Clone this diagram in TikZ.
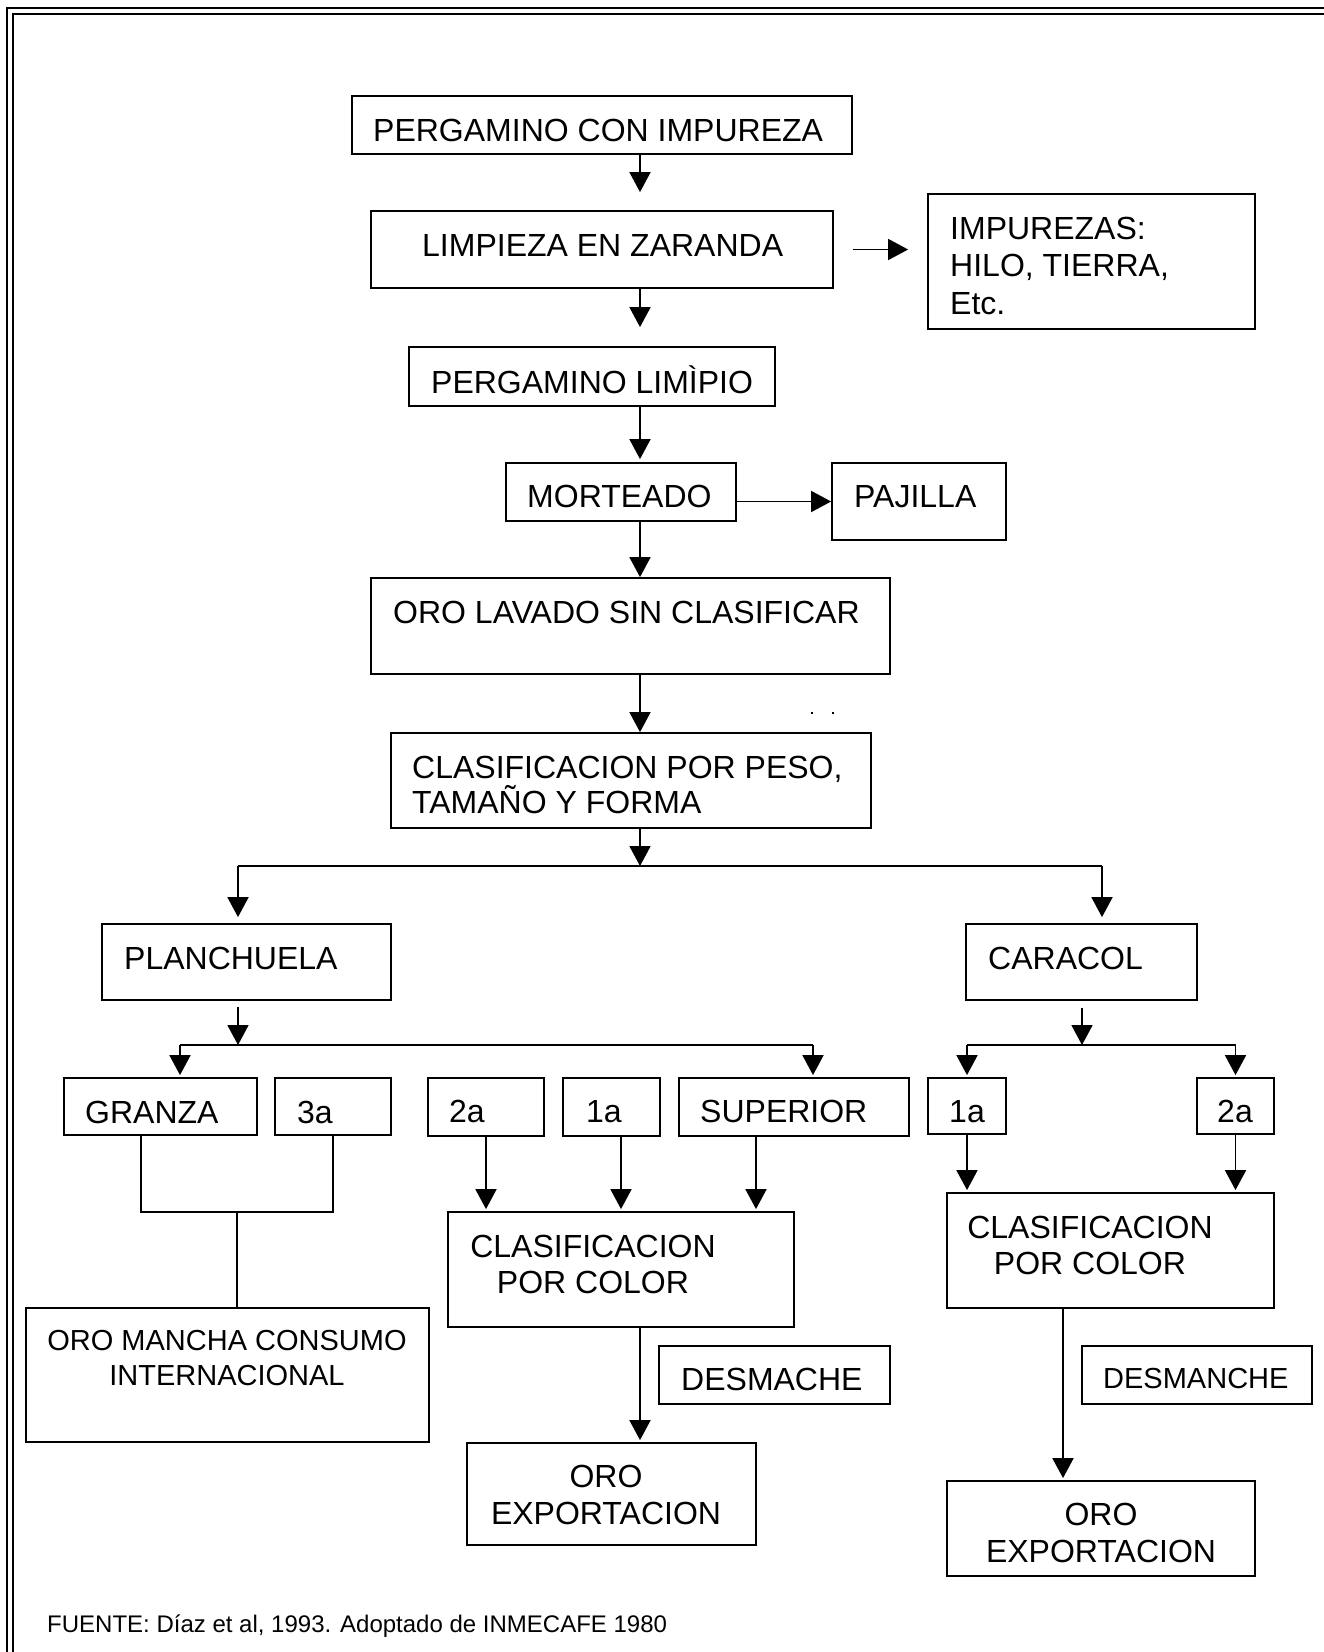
\documentclass[tikz,border=0pt]{standalone}
\usepackage{fontspec}
\setmainfont{Liberation Sans}
\usetikzlibrary{positioning, calc, fit, arrows.meta}

\begin{document}
\begin{tikzpicture}[x=1pt, y=-1pt]
  \tikzstyle{box}=[draw, line width=1.8pt, inner sep=0pt]
  \tikzstyle{txt}=[inner sep=0pt, anchor=base west, font=\fontsize{32}{36}\selectfont]
  \tikzstyle{ctxt}=[txt, anchor=base, align=center]
  \tikzstyle{small}=[font=\fontsize{29}{35}\selectfont]
  \tikzstyle{wire}=[line width=1.8pt]
  \tikzstyle{arr}=[wire, -{Triangle[length=20pt, width=21pt]}]

  \useasboundingbox (0,0) rectangle (1324,1652);

  % page frame
  \draw[line width=2.5pt] (7,1652) -- (7,8) -- (1324,8);
  \draw[line width=2.5pt] (13,1652) -- (13,14) -- (1324,14);

  % main column
  \coordinate (axis) at (640,0);
  \node[box, fit={(352,96) (852,154)}] (pimp) {};
  \node[txt] (pimp-t) at (373,141) {PERGAMINO CON IMPUREZA};
  \node[box, fit={(371,211) (833,288)}] (zar) {};
  \node[txt] (zar-t) at (422,256) {LIMPIEZA EN ZARANDA};
  \node[box, fit={(928,194) (1255,329)}] (imp) {};
  \node[txt, align=left, font=\fontsize{32}{37.5}\selectfont] (imp-t) at (950,314) {IMPUREZAS:\\HILO, TIERRA,\\Etc.};
  \node[box, fit={(409,347) (775,406)}] (plim) {};
  \node[txt] (plim-t) at (431,393) {PERGAMINO LIMÌPIO};
  \node[box, fit={(506,463) (736,521)}] (mort) {};
  \node[txt] (mort-t) at (527,507) {MORTEADO};
  \node[box, fit={(832,463) (1006,540)}] (paj) {};
  \node[txt] (paj-t) at (854,507) {PAJILLA};
  \node[box, fit={(371,578) (890,674)}] (olav) {};
  \node[txt] (olav-t) at (393,623) {ORO LAVADO SIN CLASIFICAR};
  \node[box, fit={(391,733) (871,828)}] (cpes) {};
  \node[txt, align=left, font=\fontsize{32}{35}\selectfont] (cpes-t) at (412,813) {CLASIFICACION POR PESO,\\TAMAÑO Y FORMA};
  \fill (811,712) rectangle (813,714);
  \fill (832,712) rectangle (834,714);

  \draw[arr, shorten >=18pt] (pimp.south -| axis) -- (zar.north -| axis);
  \draw[arr, shorten <=19pt, shorten >=19pt] (zar.east) -- (zar.east -| imp.west);
  \draw[arr, shorten >=19pt] (zar.south -| axis) -- (plim.north -| axis);
  \draw[arr, shorten >=3pt] (plim.south -| axis) -- (mort.north -| axis);
  \draw[arr] (paj.west -| mort.east) -- (paj.west);
  \draw[arr] (mort.south -| axis) -- (olav.north -| axis);
  \draw[arr] (olav.south -| axis) -- (cpes.north -| axis);

  % first split
  \coordinate (split) at (640,866);
  \coordinate (splitl) at (238,866);
  \coordinate (splitr) at (1102,866);
  \draw[arr] (cpes.south -| axis) -- (split);
  \draw[wire] (splitl) -- (splitr);
  \node[box, fit={(102,924) (391,1000)}] (plan) {};
  \node[txt] (plan-t) at (124,969) {PLANCHUELA};
  \node[box, fit={(966,924) (1197,1000)}] (car) {};
  \node[txt] (car-t) at (988,969) {CARACOL};
  \draw[arr, shorten >=6pt] (splitl) -- (splitl |- plan.north);
  \draw[arr, shorten >=6pt] (splitr) -- (splitr |- car.north);

  % planchuela grades
  \coordinate (plsub) at (238,1045);
  \coordinate (plsubl) at (180,1045);
  \coordinate (plsubr) at (813,1045);
  \node[box, fit={(64,1078) (257,1135)}] (gra) {};
  \node[txt] (gra-t) at (85,1123) {GRANZA};
  \node[box, fit={(275,1078) (391,1135)}] (g3a) {};
  \node[txt] (g3a-t) at (297,1123) {3a};
  \node[box, fit={(428,1078) (544,1136)}] (p2a) {};
  \node[txt] (p2a-t) at (449,1122) {2a};
  \node[box, fit={(563,1078) (660,1136)}] (p1a) {};
  \node[txt] (p1a-t) at (586,1122) {1a};
  \node[box, fit={(679,1078) (909,1136)}] (sup) {};
  \node[txt] (sup-t) at (700,1122) {SUPERIOR};
  \draw[arr, shorten <=6pt] (plan.south -| plsub) -- (plsub);
  \draw[wire] (plsubl) -- (plsubr);
  \draw[arr, shorten >=2pt] (plsubl) -- (plsubl |- gra.north);
  \draw[arr, shorten >=2pt] (plsubr) -- (plsubr |- sup.north);

  % mancha
  \coordinate (gjoin) at (237,1212);
  \node[box, fit={(26,1308) (429,1442)}] (mancha) {};
  \node[ctxt, small] (mancha-t) at (227,1385) {ORO MANCHA CONSUMO\\INTERNACIONAL};
  \draw[wire] ([xshift=-19.5pt]gra.south) |- (g3a.south |- gjoin) -- (g3a.south);
  \draw[wire] (gjoin) -- (gjoin |- mancha.north);

  % planchuela color
  \node[box, fit={(448,1212) (794,1327)}] (ccolp) {};
  \node[ctxt] (ccolp-t) at (593,1293) {CLASIFICACION\\POR COLOR};
  \node[box, fit={(659,1346) (890,1404)}] (desp) {};
  \node[txt] (desp-t) at (681,1390) {DESMACHE};
  \node[box, fit={(467,1443) (756,1545)}] (expp) {};
  \node[ctxt, font=\fontsize{32}{37}\selectfont] (expp-t) at (606,1524) {ORO\\EXPORTACION};
  \draw[arr, shorten >=2pt] (p2a.south) -- (p2a.south |- ccolp.north);
  \draw[arr, shorten >=2pt] ([xshift=9.5pt]p1a.south) -- ([xshift=9.5pt]p1a.south |- ccolp.north);
  \draw[arr, shorten >=2pt] ([xshift=-38pt]sup.south) -- ([xshift=-38pt]sup.south |- ccolp.north);
  \draw[arr, shorten >=2pt] (ccolp.south -| axis) -- (expp.north -| axis);

  % caracol grades
  \coordinate (carsub) at (1082,1045);
  \coordinate (raxis) at (1063,0);
  \node[box, fit={(928,1078) (1006,1134)}] (c1a) {};
  \node[txt] (c1a-t) at (949,1122) {1a};
  \node[box, fit={(1197,1078) (1274,1134)}] (c2a) {};
  \node[txt] (c2a-t) at (1217,1122) {2a};
  \node[box, fit={(947,1193) (1274,1308)}] (ccolc) {};
  \node[ctxt] (ccolc-t) at (1090,1274) {CLASIFICACION\\POR COLOR};
  \node[box, fit={(1082,1346) (1312,1404)}] (desc) {};
  \node[txt, small] (desc-t) at (1103,1388) {DESMANCHE};
  \node[box, fit={(947,1481) (1255,1576)}] (expc) {};
  \node[ctxt, font=\fontsize{32}{37}\selectfont] (expc-t) at (1101,1562) {ORO\\EXPORTACION};
  \draw[arr, shorten <=7pt] (car.south -| carsub) -- (carsub);
  \draw[wire] (c1a.north |- carsub) -- (c2a.north |- carsub);
  \draw[arr, shorten >=2pt] (c1a.north |- carsub) -- (c1a.north);
  \draw[arr, shorten >=2pt] (c2a.north |- carsub) -- (c2a.north);
  \draw[arr, shorten >=2pt] (c1a.south) -- (c1a.south |- ccolc.north);
  \draw[arr, shorten >=2pt] (c2a.south) -- (c2a.south |- ccolc.north);
  \draw[arr, shorten >=2pt] (ccolc.south -| raxis) -- (expc.north -| raxis);

  % source
  \node[txt, font=\fontsize{24}{28}\selectfont] (fuente) at (47,1632) {FUENTE: Díaz et al, 1993. Adoptado de INMECAFE 1980};
\end{tikzpicture}
\end{document}
